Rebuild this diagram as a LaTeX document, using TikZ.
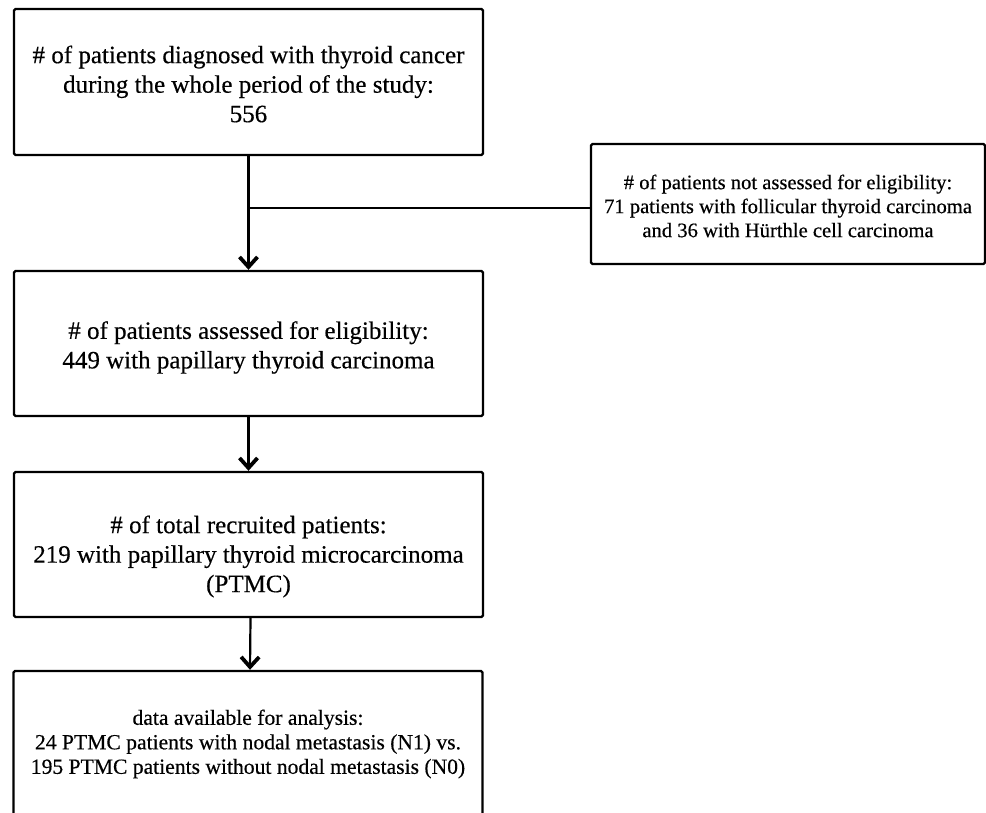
\documentclass[tikz,border=0pt]{standalone}
\usepackage{fontspec}
\setmainfont{Liberation Serif}[FakeBold=0.4]
\usetikzlibrary{arrows.meta}
\begin{document}
\begin{tikzpicture}[x=1pt,y=1pt,
  box/.style={draw=black, line width=2.4pt, fill=white, rounded corners=1.5pt, inner sep=0pt},
  bigtxt/.style={align=center, font=\fontsize{25}{29.5}\selectfont, inner sep=0pt},
  smalltxt/.style={align=center, font=\fontsize{20.6}{24}\selectfont, inner sep=0pt},
  midtxt/.style={align=center, font=\fontsize{21.6}{24.5}\selectfont, inner sep=0pt},
  conn/.style={line width=2.2pt},
  arr/.style={line width=2.2pt, -{Straight Barb[length=10pt,width=18pt,line width=3.8pt]}}
]
\useasboundingbox (0,0) rectangle (986,-813);
\clip (0,0) rectangle (986,-813);
% boxes
\node[box, minimum width=469pt, minimum height=146pt] (b1) at (248.5,-82) {};
\node[bigtxt] (t1) at ([yshift=-2pt]b1.center) {\# of patients diagnosed with thyroid cancer\\during the whole period of the study:\\556};
\node[box, minimum width=394pt, minimum height=120pt] (sb) at (788,-204) {};
\node[smalltxt] (ts) at ([yshift=-2pt]sb.center) {\# of patients not assessed for eligibility:\\71 patients with follicular thyroid carcinoma\\and 36 with Hürthle cell carcinoma};
\node[box, minimum width=469pt, minimum height=145pt] (b3) at (248.5,-343.5) {};
\node[bigtxt] (t3) at ([yshift=-4pt]b3.center) {\# of patients assessed for eligibility:\\449 with papillary thyroid carcinoma};
\node[box, minimum width=469pt, minimum height=145pt] (b4) at (248.5,-544.5) {};
\node[bigtxt] (t4) at ([yshift=-12pt]b4.center) {\# of total recruited patients:\\219 with papillary thyroid microcarcinoma\\(PTMC)};
\node[box, minimum width=469pt, minimum height=170pt] (b5) at (248,-756) {};
\node[midtxt] (t5) at (248,-744) {data available for analysis:\\24 PTMC patients with nodal metastasis (N1) vs.\\195 PTMC patients without nodal metastasis (N0)};
% connectors
\coordinate (j) at ([yshift=-52pt]b1.south);
\draw[arr] (b1.south) -- (b3.north);
\draw[conn] (j) -- (j -| sb.west);
\draw[arr] (b3.south) -- (b4.north);
\draw[arr] ([xshift=2pt]b4.south) -- ([xshift=2pt]b5.north);
\end{tikzpicture}
\end{document}
